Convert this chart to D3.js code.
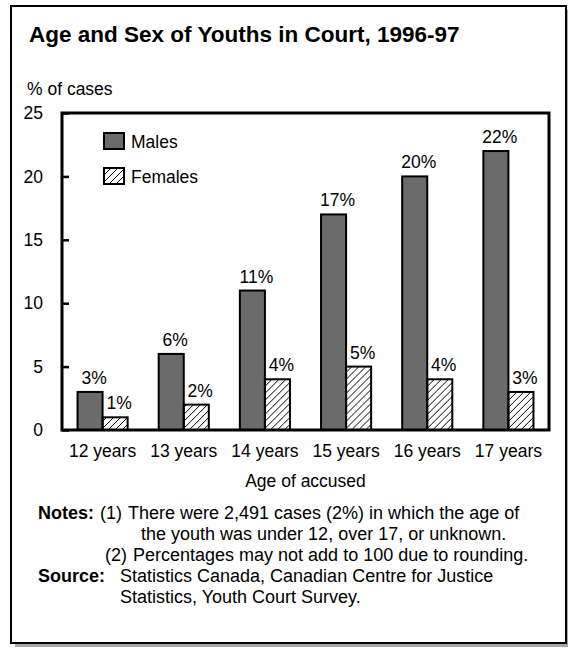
<!DOCTYPE html>
<html>
<head>
<meta charset="utf-8">
<script src="https://cdn.jsdelivr.net/npm/d3@7"></script>
<style>
  html, body { margin: 0; padding: 0; background: #fff; }
  svg { display: block; font-family: "Liberation Sans", Arial, Helvetica, sans-serif; }
</style>
</head>
<body>
<svg id="chart" width="568" height="648"></svg>
<script>
// Share of youth court cases by age of accused and sex, 1996-97
const categories = ["12 years", "13 years", "14 years", "15 years", "16 years", "17 years"];
const seriesNames = ["Males", "Females"];
const males = [3, 6, 11, 17, 20, 22];
const females = [1, 2, 4, 5, 4, 3];
const yTicks = [0, 5, 10, 15, 20, 25];

const titleText = "Age and Sex of Youths in Court, 1996-97";
const yTitle = "% of cases";
const xTitle = "Age of accused";

const svg = d3.select("#chart");
const FS = 17.5;

// outer frame with drop shadow
svg.append("rect").attr("x", 15).attr("y", 10).attr("width", 555).attr("height", 637).attr("fill", "#a6a6a6");
svg.append("rect").attr("x", 11).attr("y", 6).attr("width", 555).attr("height", 637)
  .attr("fill", "#fff").attr("stroke", "#000").attr("stroke-width", 2);

// hatch for the female series
const defs = svg.append("defs");
defs.append("pattern").attr("id", "hatch").attr("patternUnits", "userSpaceOnUse")
  .attr("width", 7).attr("height", 7)
  .append("path")
  .attr("d", "M0,7 L7,0 M-2,2 L2,-2 M5,9 L9,5")
  .attr("stroke", "#000").attr("stroke-width", 1).attr("fill", "none");

const fills = { Males: "#6b6b6b", Females: "url(#hatch)" };

svg.append("text").attr("x", 29).attr("y", 42)
  .attr("font-size", 22.5).attr("font-weight", "bold").text(titleText);
svg.append("text").attr("x", 27).attr("y", 95).attr("font-size", FS).text(yTitle);

const plot = { left: 62, right: 549, top: 113, bottom: 430 };

const x = d3.scaleBand().domain(categories).range([plot.left, plot.right]).padding(0);
const xs = d3.scaleBand().domain(seriesNames).range([0, x.bandwidth()])
  .paddingInner(0).paddingOuter(0.62);
const y = d3.scaleLinear().domain([0, 25]).range([plot.bottom, plot.top]);

// bars
const rows = categories.map((c, i) => ({ cat: c, vals: [
  { s: "Males", v: males[i] }, { s: "Females", v: females[i] } ] }));

const g = svg.append("g");
const groups = g.selectAll("g.grp").data(rows).join("g")
  .attr("class", "grp").attr("transform", d => `translate(${x(d.cat)},0)`);

groups.selectAll("rect").data(d => d.vals).join("rect")
  .attr("x", d => xs(d.s)).attr("width", xs.bandwidth())
  .attr("y", d => y(d.v)).attr("height", d => y(0) - y(d.v))
  .attr("fill", d => fills[d.s]).attr("stroke", "#000").attr("stroke-width", 2);

groups.selectAll("text").data(d => d.vals).join("text")
  .attr("x", d => xs(d.s) + xs.bandwidth() / 2 + 4)
  .attr("y", d => y(d.v) - 8)
  .attr("text-anchor", "middle").attr("font-size", FS)
  .text(d => d.v + "%");

// y axis: ticks point into the plot
const yAxis = d3.axisLeft(y).tickValues(yTicks).tickSize(-7).tickPadding(19);
const ya = svg.append("g").attr("transform", `translate(${plot.left},0)`).call(yAxis);
ya.select(".domain").remove();
ya.selectAll(".tick line").attr("stroke", "#000").attr("stroke-width", 2.5);
ya.selectAll(".tick text").attr("font-size", FS).attr("font-family", null).attr("fill", "#000");

// x axis category labels
const xAxis = d3.axisBottom(x).tickSize(0).tickPadding(15);
const xa = svg.append("g").attr("transform", `translate(0,${plot.bottom})`).call(xAxis);
xa.select(".domain").remove();
xa.selectAll(".tick text").attr("font-size", FS).attr("font-family", null).attr("fill", "#000");

// plot frame
svg.append("rect").attr("x", plot.left).attr("y", plot.top)
  .attr("width", plot.right - plot.left).attr("height", plot.bottom - plot.top)
  .attr("fill", "none").attr("stroke", "#000").attr("stroke-width", 3);

svg.append("text").attr("x", (plot.left + plot.right) / 2).attr("y", 487)
  .attr("text-anchor", "middle").attr("font-size", FS).text(xTitle);

// legend
const lg = svg.append("g").selectAll("g").data(seriesNames).join("g")
  .attr("transform", (d, i) => `translate(104,${133 + i * 35})`);
lg.append("rect").attr("width", 20).attr("height", 16)
  .attr("fill", d => fills[d]).attr("stroke", "#000").attr("stroke-width", 2);
lg.append("text").attr("x", 27).attr("y", 15).attr("font-size", FS).text(d => d);

// notes and source
const notes = [
  { x: 38, y: 519, t: "Notes:", b: true },
  { x: 100, y: 519, t: "(1)" },
  { x: 128, y: 519, t: "There were 2,491 cases (2%) in which the age of" },
  { x: 141, y: 540, t: "the youth was under 12, over 17, or unknown." },
  { x: 105, y: 561, t: "(2)" },
  { x: 133, y: 561, t: "Percentages may not add to 100 due to rounding." },
  { x: 38, y: 582, t: "Source:", b: true },
  { x: 120, y: 582, t: "Statistics Canada, Canadian Centre for Justice" },
  { x: 120, y: 603, t: "Statistics, Youth Court Survey." }
];
svg.append("g").selectAll("text").data(notes).join("text")
  .attr("x", d => d.x).attr("y", d => d.y).attr("font-size", 18)
  .attr("font-weight", d => d.b ? "bold" : null).text(d => d.t);
</script>
</body>
</html>
